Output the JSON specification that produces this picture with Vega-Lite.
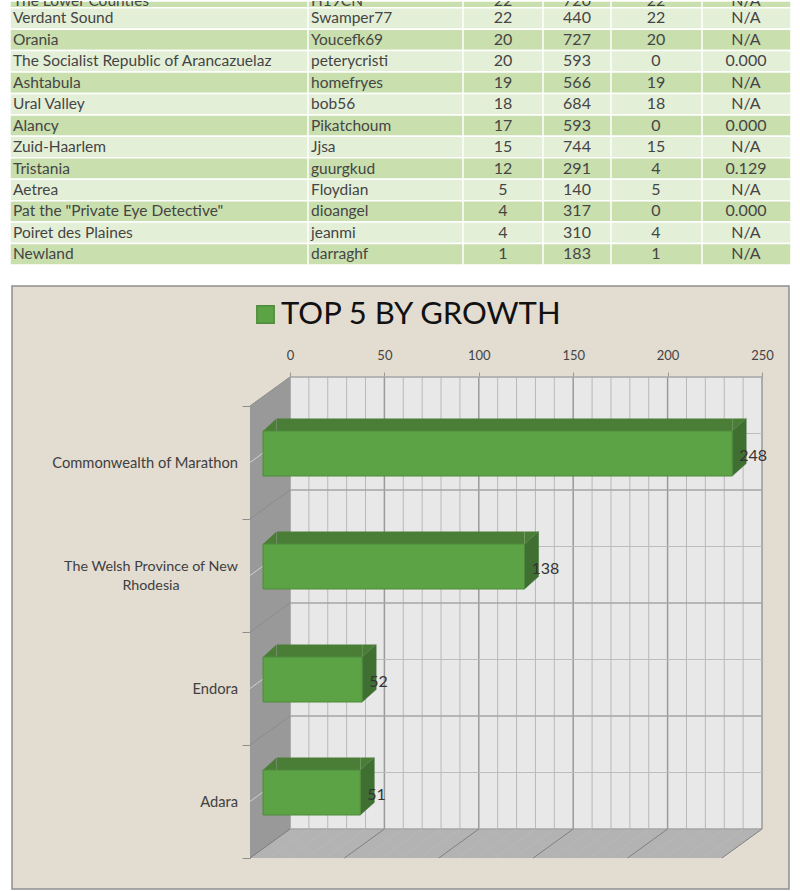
{
"$schema":"https://vega.github.io/schema/vega-lite/v6.json",
"padding":{"left":9,"right":11,"top":0,"bottom":2},
"spacing":19,
"background":"#ffffff",
"config":{"view":{"stroke":null},"text":{"font":"Lato"},"axis":{"labelFont":"Lato"},"legend":{"labelFont":"Lato"}},
"datasets":{
"table":[
{"row":0,"nation":"The Lower Counties","player":"H19CN","a":"22","b":"720","c":"22","d":"N/A"},
{"row":1,"nation":"Verdant Sound","player":"Swamper77","a":"22","b":"440","c":"22","d":"N/A"},
{"row":2,"nation":"Orania","player":"Youcefk69","a":"20","b":"727","c":"20","d":"N/A"},
{"row":3,"nation":"The Socialist Republic of Arancazuelaz","player":"peterycristi","a":"20","b":"593","c":"0","d":"0.000"},
{"row":4,"nation":"Ashtabula","player":"homefryes","a":"19","b":"566","c":"19","d":"N/A"},
{"row":5,"nation":"Ural Valley","player":"bob56","a":"18","b":"684","c":"18","d":"N/A"},
{"row":6,"nation":"Alancy","player":"Pikatchoum","a":"17","b":"593","c":"0","d":"0.000"},
{"row":7,"nation":"Zuid-Haarlem","player":"Jjsa","a":"15","b":"744","c":"15","d":"N/A"},
{"row":8,"nation":"Tristania","player":"guurgkud","a":"12","b":"291","c":"4","d":"0.129"},
{"row":9,"nation":"Aetrea","player":"Floydian","a":"5","b":"140","c":"5","d":"N/A"},
{"row":10,"nation":"Pat the \"Private Eye Detective\"","player":"dioangel","a":"4","b":"317","c":"0","d":"0.000"},
{"row":11,"nation":"Poiret des Plaines","player":"jeanmi","a":"4","b":"310","c":"4","d":"N/A"},
{"row":12,"nation":"Newland","player":"darraghf","a":"1","b":"183","c":"1","d":"N/A"}],
"bars":[
{"rank":0,"category":"Commonwealth of Marathon","growth":248,"series":"TOP 5 BY GROWTH"},
{"rank":1,"category":"The Welsh Province of New Rhodesia","growth":138,"series":"TOP 5 BY GROWTH"},
{"rank":2,"category":"Endora","growth":52,"series":"TOP 5 BY GROWTH"},
{"rank":3,"category":"Adara","growth":51,"series":"TOP 5 BY GROWTH"}],
"xticks":[{"v":0,"major":1},{"v":10,"major":0},{"v":20,"major":0},{"v":30,"major":0},{"v":40,"major":0},{"v":50,"major":1},{"v":60,"major":0},{"v":70,"major":0},{"v":80,"major":0},{"v":90,"major":0},{"v":100,"major":1},{"v":110,"major":0},{"v":120,"major":0},{"v":130,"major":0},{"v":140,"major":0},{"v":150,"major":1},{"v":160,"major":0},{"v":170,"major":0},{"v":180,"major":0},{"v":190,"major":0},{"v":200,"major":1},{"v":210,"major":0},{"v":220,"major":0},{"v":230,"major":0},{"v":240,"major":0},{"v":250,"major":1}],
"yticks":[{"y":0,"major":1},{"y":0.5,"major":0},{"y":1,"major":1},{"y":1.5,"major":0},{"y":2,"major":1},{"y":2.5,"major":0},{"y":3,"major":1},{"y":3.5,"major":0},{"y":4,"major":1}]
},
"vconcat":[
{"width":777,"height":264,
"data":{"name":"table"},
"transform":[{"calculate":"datum.row+1","as":"rowEnd"},{"calculate":"datum.row+0.5","as":"rowMid"},{"calculate":"10","as":"left"},{"calculate":"791","as":"right"},{"calculate":"13","as":"c1"},{"calculate":"311","as":"c2"},{"calculate":"503","as":"c3"},{"calculate":"577","as":"c4"},{"calculate":"656","as":"c5"},{"calculate":"746","as":"c6"}],
"layer":[
{"mark":{"type":"rect","stroke":"#ffffff","strokeWidth":1.5},
 "encoding":{
 "x":{"field":"left","type":"quantitative","axis":null,"scale":{"domain":[10,791],"range":[-2,779],"zero":false,"nice":false}},
 "x2":{"field":"right"},
 "y":{"field":"row","type":"quantitative","axis":null,"scale":{"domain":[13,0.686],"range":[264,0],"clamp":true,"zero":false,"nice":false}},
 "y2":{"field":"rowEnd"},
 "fill":{"condition":{"test":"datum.row % 2 == 0","value":"#c9dfae"},"value":"#e4efd8"}}},
{"data":{"values":[{"col":308,"r0":0.686,"r1":13},{"col":463,"r0":0.686,"r1":13},{"col":543,"r0":0.686,"r1":13},{"col":611,"r0":0.686,"r1":13},{"col":702,"r0":0.686,"r1":13}]},
 "mark":{"type":"rule","color":"#ffffff","strokeWidth":1.5},
 "encoding":{"x":{"field":"col","type":"quantitative"},"y":{"field":"r0","type":"quantitative"},"y2":{"field":"r1"}}},
{"mark":{"type":"text","align":"left","baseline":"middle","fontSize":15.5,"color":"#454545","clip":true},
 "encoding":{"x":{"field":"c1","type":"quantitative"},"y":{"field":"rowMid","type":"quantitative"},"text":{"field":"nation","type":"nominal"}}},
{"mark":{"type":"text","align":"left","baseline":"middle","fontSize":15.5,"color":"#454545","clip":true},
 "encoding":{"x":{"field":"c2","type":"quantitative"},"y":{"field":"rowMid","type":"quantitative"},"text":{"field":"player","type":"nominal"}}},
{"mark":{"type":"text","align":"center","baseline":"middle","fontSize":16,"color":"#454545","clip":true},
 "encoding":{"x":{"field":"c3","type":"quantitative"},"y":{"field":"rowMid","type":"quantitative"},"text":{"field":"a","type":"nominal"}}},
{"mark":{"type":"text","align":"center","baseline":"middle","fontSize":16,"color":"#454545","clip":true},
 "encoding":{"x":{"field":"c4","type":"quantitative"},"y":{"field":"rowMid","type":"quantitative"},"text":{"field":"b","type":"nominal"}}},
{"mark":{"type":"text","align":"center","baseline":"middle","fontSize":16,"color":"#454545","clip":true},
 "encoding":{"x":{"field":"c5","type":"quantitative"},"y":{"field":"rowMid","type":"quantitative"},"text":{"field":"c","type":"nominal"}}},
{"mark":{"type":"text","align":"center","baseline":"middle","fontSize":16,"color":"#454545","clip":true},
 "encoding":{"x":{"field":"c6","type":"quantitative"},"y":{"field":"rowMid","type":"quantitative"},"text":{"field":"d","type":"nominal"}}}
]},
{"width":777,"height":603,
"view":{"fill":"#e3dcd0","stroke":"#8f8f8f","strokeWidth":1.5},
"layer":[
{"data":{"values":[{"v":0,"v2":250,"y":0,"y2":4}]},
 "mark":{"type":"rect","fill":"#e8e8e8","yOffset":-29,"y2Offset":-29},
 "encoding":{
 "x":{"field":"v","type":"quantitative","title":null,"scale":{"domain":[0,250],"range":[278,750],"zero":false,"nice":false},
   "axis":{"orient":"top","offset":-91,"values":[0,50,100,150,200,250],"grid":false,"domain":false,"tickSize":5,"tickColor":"#999999","labelFontSize":13,"labelColor":"#444444","labelPadding":10,"labelFlush":false,"title":null}},
 "x2":{"field":"v2"},
 "y":{"field":"y","type":"quantitative","title":null,"scale":{"domain":[0,4],"range":[120,572],"zero":false,"nice":false},
   "axis":{"orient":"left","offset":-238,"values":[0,1,2,3,4],"grid":false,"domain":false,"labels":false,"tickSize":8,"tickColor":"#8f8f8f","title":null}},
 "y2":{"field":"y2"}}},
{"data":{"values":[{"v":-21.19,"y":0,"y2":4},{"v":0,"y":-0.2566,"y2":3.7434}]},
 "mark":{"type":"area","color":"#999999"},
 "encoding":{"x":{"field":"v","type":"quantitative"},"y":{"field":"y","type":"quantitative"},"y2":{"field":"y2"}}},
{"data":{"values":[{"v":-21.19,"y":4,"y2":4},{"v":0,"y":3.7434,"y2":4},{"v":228.81,"y":3.7434,"y2":4},{"v":250,"y":3.7434,"y2":3.7434}]},
 "mark":{"type":"area","color":"#b3b3b3"},
 "encoding":{"x":{"field":"v","type":"quantitative"},"y":{"field":"y","type":"quantitative"},"y2":{"field":"y2"}}},
{"data":{"name":"xticks"},
 "transform":[{"calculate":"0","as":"y0"},{"calculate":"4","as":"y1"}],
 "mark":{"type":"rule","yOffset":-29,"y2Offset":-29},
 "encoding":{"x":{"field":"v","type":"quantitative"},"y":{"field":"y0","type":"quantitative"},"y2":{"field":"y1"},
 "color":{"condition":{"test":"datum.major==1","value":"#9a9a9a"},"value":"#b8b8b8"},
 "strokeWidth":{"condition":{"test":"datum.major==1","value":1.5},"value":1}}},
{"data":{"name":"yticks"},
 "transform":[{"calculate":"0","as":"x0"},{"calculate":"250","as":"x1"}],
 "mark":{"type":"rule","yOffset":-29},
 "encoding":{"x":{"field":"x0","type":"quantitative"},"x2":{"field":"x1"},"y":{"field":"y","type":"quantitative"},
 "color":{"condition":{"test":"datum.major==1","value":"#a6a6a6"},"value":"#bdbdbd"},
 "strokeWidth":{"condition":{"test":"datum.major==1","value":1.5},"value":1}}},
{"data":{"name":"yticks"},
 "transform":[{"calculate":"0","as":"x1"}],
 "mark":{"type":"rule","xOffset":-40,"y2Offset":-29},
 "encoding":{"x":{"field":"x1","type":"quantitative"},"x2":{"field":"x1"},"y":{"field":"y","type":"quantitative"},"y2":{"field":"y"},
 "color":{"condition":{"test":"datum.major==1","value":"#8c8c8c"},"value":"#d0d0d0"}}},
{"data":{"name":"xticks"},
 "transform":[{"calculate":"4","as":"y1"}],
 "mark":{"type":"rule","xOffset":-40,"y2Offset":-29},
 "encoding":{"x":{"field":"v","type":"quantitative"},"x2":{"field":"v"},"y":{"field":"y1","type":"quantitative"},"y2":{"field":"y1"},
 "color":{"condition":{"test":"datum.major==1","value":"#808080"},"value":"#b9b9b9"}}},
{"data":{"name":"bars"},
 "transform":[{"calculate":"datum.rank+0.5","as":"mid"},{"calculate":"0","as":"zero"},{"calculate":"datum.mid-0.3893","as":"topY"},{"calculate":"datum.mid-0.2787","as":"faceTop"},{"calculate":"datum.mid+0.1195","as":"faceBottom"}],
 "layer":[
 {"mark":{"type":"rect","fill":"#4a7e37","xOffset":-13,"x2Offset":-26},
  "encoding":{"x":{"field":"zero","type":"quantitative"},"x2":{"field":"growth"},"y":{"field":"topY","type":"quantitative"},"y2":{"field":"faceTop"}}},
 {"mark":{"type":"point","filled":true,"opacity":1,"size":4,"fill":"#4a7e37","shape":"M0,0L13.5,-12.5L13.5,0Z","xOffset":-27},
  "encoding":{"x":{"field":"zero","type":"quantitative"},"y":{"field":"faceTop","type":"quantitative"}}},
 {"mark":{"type":"point","filled":true,"opacity":1,"size":4,"fill":"#3f7032","stroke":"#3f7032","strokeWidth":0.5,"shape":"M0,-22.5L14,-35L14,10L0,22.5Z","xOffset":-26,"yOffset":-9},
  "encoding":{"x":{"field":"growth","type":"quantitative"},"y":{"field":"mid","type":"quantitative"}}},
 {"mark":{"type":"point","filled":true,"opacity":1,"size":4,"fill":"#4a7e37","shape":"M0,-22.5L14,-35L0,-35Z","xOffset":-26,"yOffset":-9},
  "encoding":{"x":{"field":"growth","type":"quantitative"},"y":{"field":"mid","type":"quantitative"}}},
 {"mark":{"type":"rect","stroke":"#4f8b3c","strokeWidth":1,"xOffset":-27,"x2Offset":-26},
  "encoding":{"x":{"field":"zero","type":"quantitative"},"x2":{"field":"growth"},"y":{"field":"faceTop","type":"quantitative"},"y2":{"field":"faceBottom"},
  "color":{"field":"series","type":"nominal","scale":{"range":["#5ba344"]},
   "legend":{"title":null,"orient":"none","legendX":238,"legendY":298,"symbolType":"square","symbolSize":300,"symbolStrokeColor":"#4f8b3c","labelFontSize":31,"labelColor":"#111111","labelLimit":500,"labelOffset":0}}}},
 {"mark":{"type":"text","align":"left","baseline":"middle","fontSize":16,"color":"#333333","xOffset":-19,"yOffset":-7},
  "encoding":{"x":{"field":"growth","type":"quantitative"},"y":{"field":"mid","type":"quantitative"},"text":{"field":"growth","type":"quantitative"}}},
 {"transform":[{"filter":"datum.rank != 1"}],
  "mark":{"type":"text","align":"right","baseline":"middle","fontSize":14.7,"color":"#404040","xOffset":-52,"yOffset":1},
  "encoding":{"x":{"field":"zero","type":"quantitative"},"y":{"field":"mid","type":"quantitative"},"text":{"field":"category","type":"nominal"}}},
 {"transform":[{"filter":"datum.rank == 1"},{"calculate":"replace(datum.category,'New ','New|')","as":"label"}],
  "mark":{"type":"text","align":"center","baseline":"middle","fontSize":14.3,"color":"#404040","lineBreak":"|","lineHeight":19,"xOffset":-139,"yOffset":-9},
  "encoding":{"x":{"field":"zero","type":"quantitative"},"y":{"field":"mid","type":"quantitative"},"text":{"field":"label","type":"nominal"}}}
 ]}
]}
]}
